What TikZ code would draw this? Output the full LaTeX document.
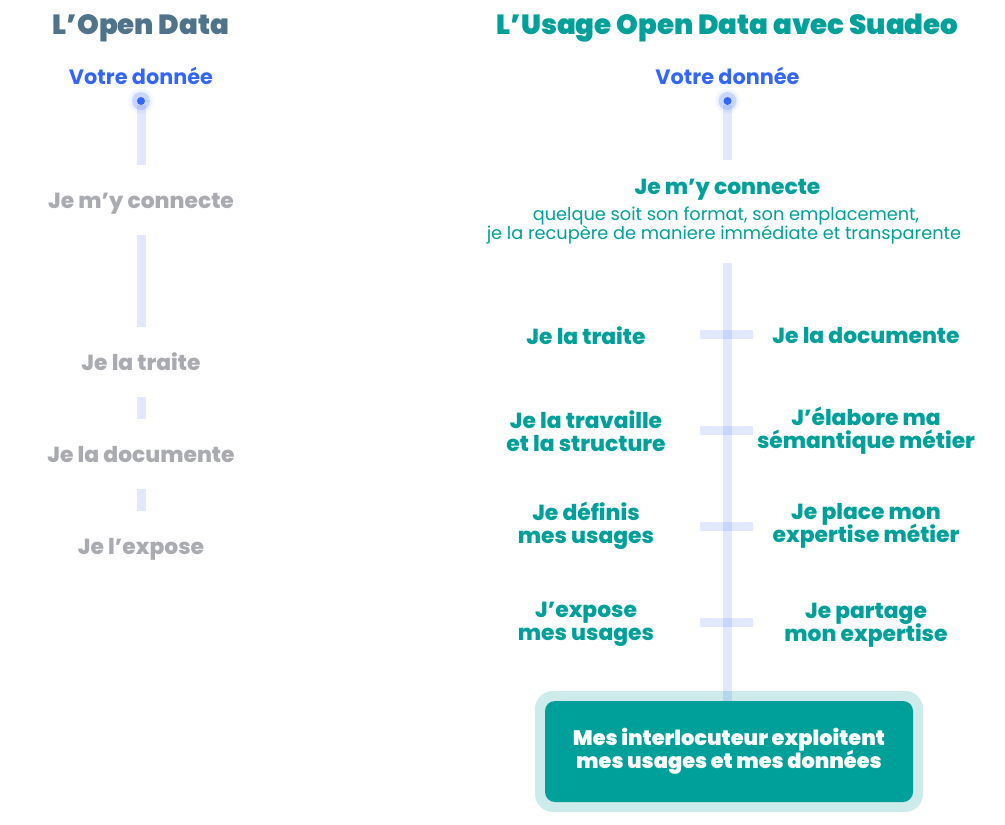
\documentclass[tikz,border=0pt]{standalone}
\usepackage{fontspec}
\setmainfont{Poppins}
\newfontfamily\lourd{Poppins Black}
\newfontfamily\gras{Poppins ExtraBold}
\usepackage{tikz}
\usetikzlibrary{calc}
\setlength{\lineskiplimit}{-100pt}
\definecolor{suateal}{HTML}{00A09A}
\definecolor{suahalo}{HTML}{CCEBEA}
\definecolor{suablue}{HTML}{3366FF}
\definecolor{suaslate}{HTML}{4F738A}
\definecolor{suagrey}{HTML}{A9ABB1}
\tikzset{every node/.style={inner sep=0pt, outer sep=0pt, align=center},
  titre/.style={font=\fontsize{27.7}{30}\selectfont\lourd},
  gris/.style={font=\fontsize{21.8}{24}\selectfont\gras, text=suagrey, minimum height=70pt, text height=18pt, text depth=2pt},
  vert/.style={font=\fontsize{21.8}{23.3}\selectfont\gras, text=suateal},
  bleu/.style={font=\fontsize{20.8}{24}\selectfont\bfseries, text=suablue},
  bar/.style={line width=9pt, suablue, opacity=0.15},
  dot/.style={circle, fill=suablue, minimum size=8pt},
  halo/.style={circle, fill=suablue, opacity=0.2, minimum size=18pt},
  glow/.style={circle, fill=suablue, opacity=0.04, minimum size=#1}}

\begin{document}
\begin{tikzpicture}
\useasboundingbox (0,0) rectangle (1005pt,-825pt);
% colonne de gauche
\node (tl) at (141pt,-28pt) [titre, text=suaslate] {L’Open Data};
\node (vl) at ($(tl)+(0,-48pt)$) [bleu] {Votre donnée};
\node (gl1) at ($(tl)+(0,-73pt)$) [glow=26pt] {};
\node (gl2) at ($(tl)+(0,-73pt)$) [glow=22pt] {};
\node (hl) at ($(tl)+(0,-73pt)$) [halo] {};
\node (dl) at ($(tl)+(0,-73pt)$) [dot] {};
\node (cl) at ($(tl)+(0,-172pt)$) [gris] {Je m’y connecte};
\node (al) at ($(tl)+(0,-334pt)$) [gris] {Je la traite};
\node (bl) at ($(tl)+(0,-426pt)$) [gris] {Je la documente};
\node (el) at ($(tl)+(0,-518pt)$) [gris] {Je l’expose};
\draw[bar] (dl) -- (cl);
\draw[bar] (cl) -- (al);
\draw[bar] (al) -- (bl);
\draw[bar] (bl) -- (el);
% colonne de droite
\node (tr) at (727.5pt,-28pt) [titre, text=suateal] {L’Usage Open Data avec Suadeo};
\node (vr) at ($(tr)+(0,-48pt)$) [bleu] {Votre donnée};
\node (gr1) at ($(tr)+(0,-73pt)$) [glow=26pt] {};
\node (gr2) at ($(tr)+(0,-73pt)$) [glow=22pt] {};
\node (hr) at ($(tr)+(0,-73pt)$) [halo] {};
\node (dr) at ($(tr)+(0,-73pt)$) [dot] {};
\node (cr) at ($(tr)+(0,-159pt)$) [vert, minimum height=54pt, text height=17pt, text depth=3pt] {Je m’y connecte};
\node (sr) at ($(tr)+(-3.5pt,-197.5pt)$) [text=suateal, minimum height=75pt, font=\fontsize{17.75}{19}\selectfont] {\hspace*{4pt}quelque soit son format, son emplacement,\\je la recupère de maniere immédiate et transparente};
\node (a1) at (586pt,-336pt) [vert, minimum width=228pt] {Je la traite};
\node (b1) at (866pt,-336pt) [vert, minimum width=226pt] {Je la documente};
\node (a2) at (586pt,-431.5pt) [vert, minimum width=228pt] {Je la travaille\\et la structure};
\node (b2) at (866pt,-431pt) [vert, minimum width=226pt] {J’élabore ma\\sémantique métier};
\node (a3) at (586pt,-525.5pt) [vert, minimum width=228pt] {Je définis\\mes usages};
\node (b3) at (866pt,-525.5pt) [vert, minimum width=226pt] {Je place mon\\expertise métier};
\node (a4) at (586pt,-624.5pt) [vert, minimum width=228pt] {J’expose\\mes usages};
\node (b4) at (866pt,-625.5pt) [vert, minimum width=226pt] {Je partage\\mon expertise};
% boite du bas
\node (mh) at (729pt,-751.5pt) [minimum width=388pt, minimum height=121pt, rounded corners=18pt, fill=suahalo] {};
\node (mb) at (729pt,-751.5pt) [minimum width=368pt, minimum height=101pt, rounded corners=10pt, fill=suateal, text=white, font=\fontsize{20.9}{23.3}\selectfont\lourd] {Mes interlocuteur exploitent\\mes usages et mes données};
\draw[bar] (dr) -- (cr);
\draw[bar] (sr.south -| dr) -- (dr |- mb.north);
\draw[bar] (a1.east |- 0,-334pt) -- (b1.west |- 0,-334pt);
\draw[bar] (a2.east |- 0,-430pt) -- (b2.west |- 0,-430pt);
\draw[bar] (a3.east |- 0,-526pt) -- (b3.west |- 0,-526pt);
\draw[bar] (a4.east |- 0,-622pt) -- (b4.west |- 0,-622pt);
\end{tikzpicture}
\end{document}
